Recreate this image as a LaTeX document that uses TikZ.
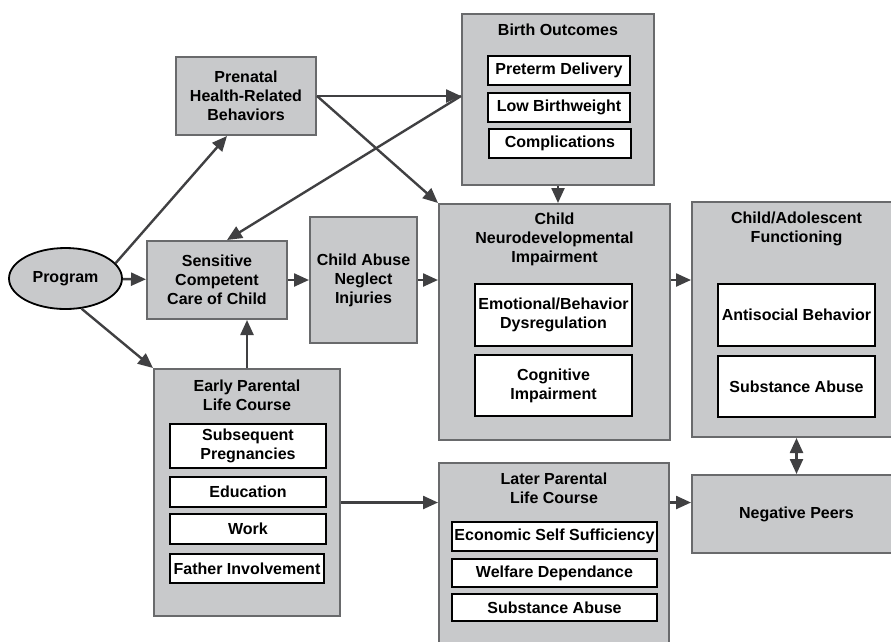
\documentclass[tikz,border=0pt]{standalone}
\usepackage{fontspec}
\setmainfont{Liberation Sans}
\usetikzlibrary{shapes,arrows.meta}
\definecolor{boxgray}{RGB}{200,201,203}
\definecolor{edgegray}{RGB}{105,106,108}
\definecolor{arrowgray}{RGB}{64,64,66}
\newcommand{\boxfont}{\fontsize{16pt}{19pt}\selectfont\bfseries}
\tikzset{
  OuterBox/.style = {draw=edgegray, line width=2pt, fill=boxgray,
                     font=\boxfont, align=center, inner sep=0pt},
  InnerBox/.style = {draw=black, line width=1.4pt, fill=white,
                     font=\boxfont, align=center, inner sep=0pt},
  Title/.style    = {font=\boxfont, align=center},
  EdgeStyle/.style = {draw=arrowgray, line width=2.4pt, ->},
  >={Triangle[length=15pt,width=13pt]}
}

\begin{document}
\begin{tikzpicture}[x=1pt,y=-1pt]
  \clip (0,0) rectangle (891,641);
  \node[ellipse, draw=black, line width=1.8pt, fill=boxgray, font=\boxfont,
        minimum width=113pt, minimum height=61pt, inner sep=0pt] (prog) at (65.5,278.5) {Program};
  \node[OuterBox, minimum width=140pt, minimum height=78pt] (prenatal) at (246,96)
    {Prenatal\\Health-Related\\Behaviors};
  \node[OuterBox, minimum width=140pt, minimum height=78pt] (sens) at (217,280)
    {Sensitive\\Competent\\Care of Child};
  \node[OuterBox, minimum width=107pt, minimum height=126pt] (abuse) at (363.5,280)
    {Child Abuse\\Neglect\\Injuries};

  \node[OuterBox, minimum width=192pt, minimum height=171pt] (birth) at (558,99.5) {};
  \node[Title] (birth-t) at (558,30) {Birth Outcomes};
  \node[InnerBox, minimum width=142pt, minimum height=29pt] (preterm) at (559,70.5) {Preterm Delivery};
  \node[InnerBox, minimum width=142pt, minimum height=29pt] (lowbw) at (559,107.5) {Low Birthweight};
  \node[InnerBox, minimum width=142pt, minimum height=29pt] (compl) at (560,143.5) {Complications};

  \node[OuterBox, minimum width=231pt, minimum height=236pt] (neuro) at (554.5,322) {};
  \node[Title] (neuro-t) at (554.5,239) {Child\\Neurodevelopmental\\Impairment};
  \node[InnerBox, minimum width=157pt, minimum height=62pt] (emot) at (553.5,315)
    {Emotional/Behavior\\Dysregulation};
  \node[InnerBox, minimum width=157pt, minimum height=61pt] (cogn) at (553.5,385.5)
    {Cognitive\\Impairment};

  \node[OuterBox, minimum width=209pt, minimum height=235pt] (adol) at (796.5,319.5) {};
  \node[Title] (adol-t) at (796.5,229) {Child/Adolescent\\Functioning};
  \node[InnerBox, minimum width=157pt, minimum height=62pt] (antisoc) at (796.5,315) {Antisocial Behavior};
  \node[InnerBox, minimum width=157pt, minimum height=61pt] (adolsub) at (796.5,386.5) {Substance Abuse};

  \node[OuterBox, minimum width=209pt, minimum height=78pt] (neg) at (796.5,514) {Negative Peers};

  \node[OuterBox, minimum width=186pt, minimum height=247pt] (early) at (247,492.5) {};
  \node[Title] (early-t) at (247,395.5) {Early Parental\\Life Course};
  \node[InnerBox, minimum width=156pt, minimum height=44pt] (subseq) at (248,446) {Subsequent\\Pregnancies};
  \node[InnerBox, minimum width=156pt, minimum height=30pt] (educ) at (248,492) {Education};
  \node[InnerBox, minimum width=156pt, minimum height=30pt] (work) at (248,529) {Work};
  \node[InnerBox, minimum width=154pt, minimum height=29pt] (father) at (247,568.5) {Father Involvement};

  \node[OuterBox, minimum width=230pt, minimum height=197pt] (later) at (554,561.5) {};
  \node[Title] (later-t) at (554,488.5) {Later Parental\\Life Course};
  \node[InnerBox, minimum width=205pt, minimum height=29pt] (econ) at (554.5,536.5) {Economic Self Sufficiency};
  \node[InnerBox, minimum width=205pt, minimum height=28pt] (welf) at (554.5,573) {Welfare Dependance};
  \node[InnerBox, minimum width=205pt, minimum height=27pt] (latersub) at (554.5,607.5) {Substance Abuse};

  \draw[EdgeStyle] (prog.17) -- ([xshift=-19pt]prenatal.south);
  \draw[EdgeStyle] (prog) -- (sens);
  \draw[EdgeStyle] (prog.-62) -- (early.north west);
  \draw[EdgeStyle] (prenatal.east) -- (prenatal.east -| birth.west);
  \draw[EdgeStyle] (prenatal.east) -- (neuro.north west);
  \draw[EdgeStyle] (prenatal.east -| birth.west) -- ([xshift=10pt]sens.north);
  \draw[EdgeStyle] (birth.south) -- (birth.south |- neuro.north);
  \draw[EdgeStyle] (sens) -- (abuse);
  \draw[EdgeStyle] (abuse.east) -- (abuse.east -| neuro.west);
  \draw[EdgeStyle] (abuse.east -| neuro.east) -- (abuse.east -| adol.west);
  \draw[EdgeStyle] (early.north) -- (early.north |- sens.south);
  \draw[EdgeStyle] ([yshift=-10pt]early.east) -- ([yshift=-10pt]early.east -| later.west);
  \draw[EdgeStyle] ([yshift=-10pt]early.east -| later.east) -- ([yshift=-10pt]early.east -| neg.west);
  \draw[EdgeStyle, <->] (adolsub |- adol.south) -- (adolsub |- neg.north);
\end{tikzpicture}
\end{document}
